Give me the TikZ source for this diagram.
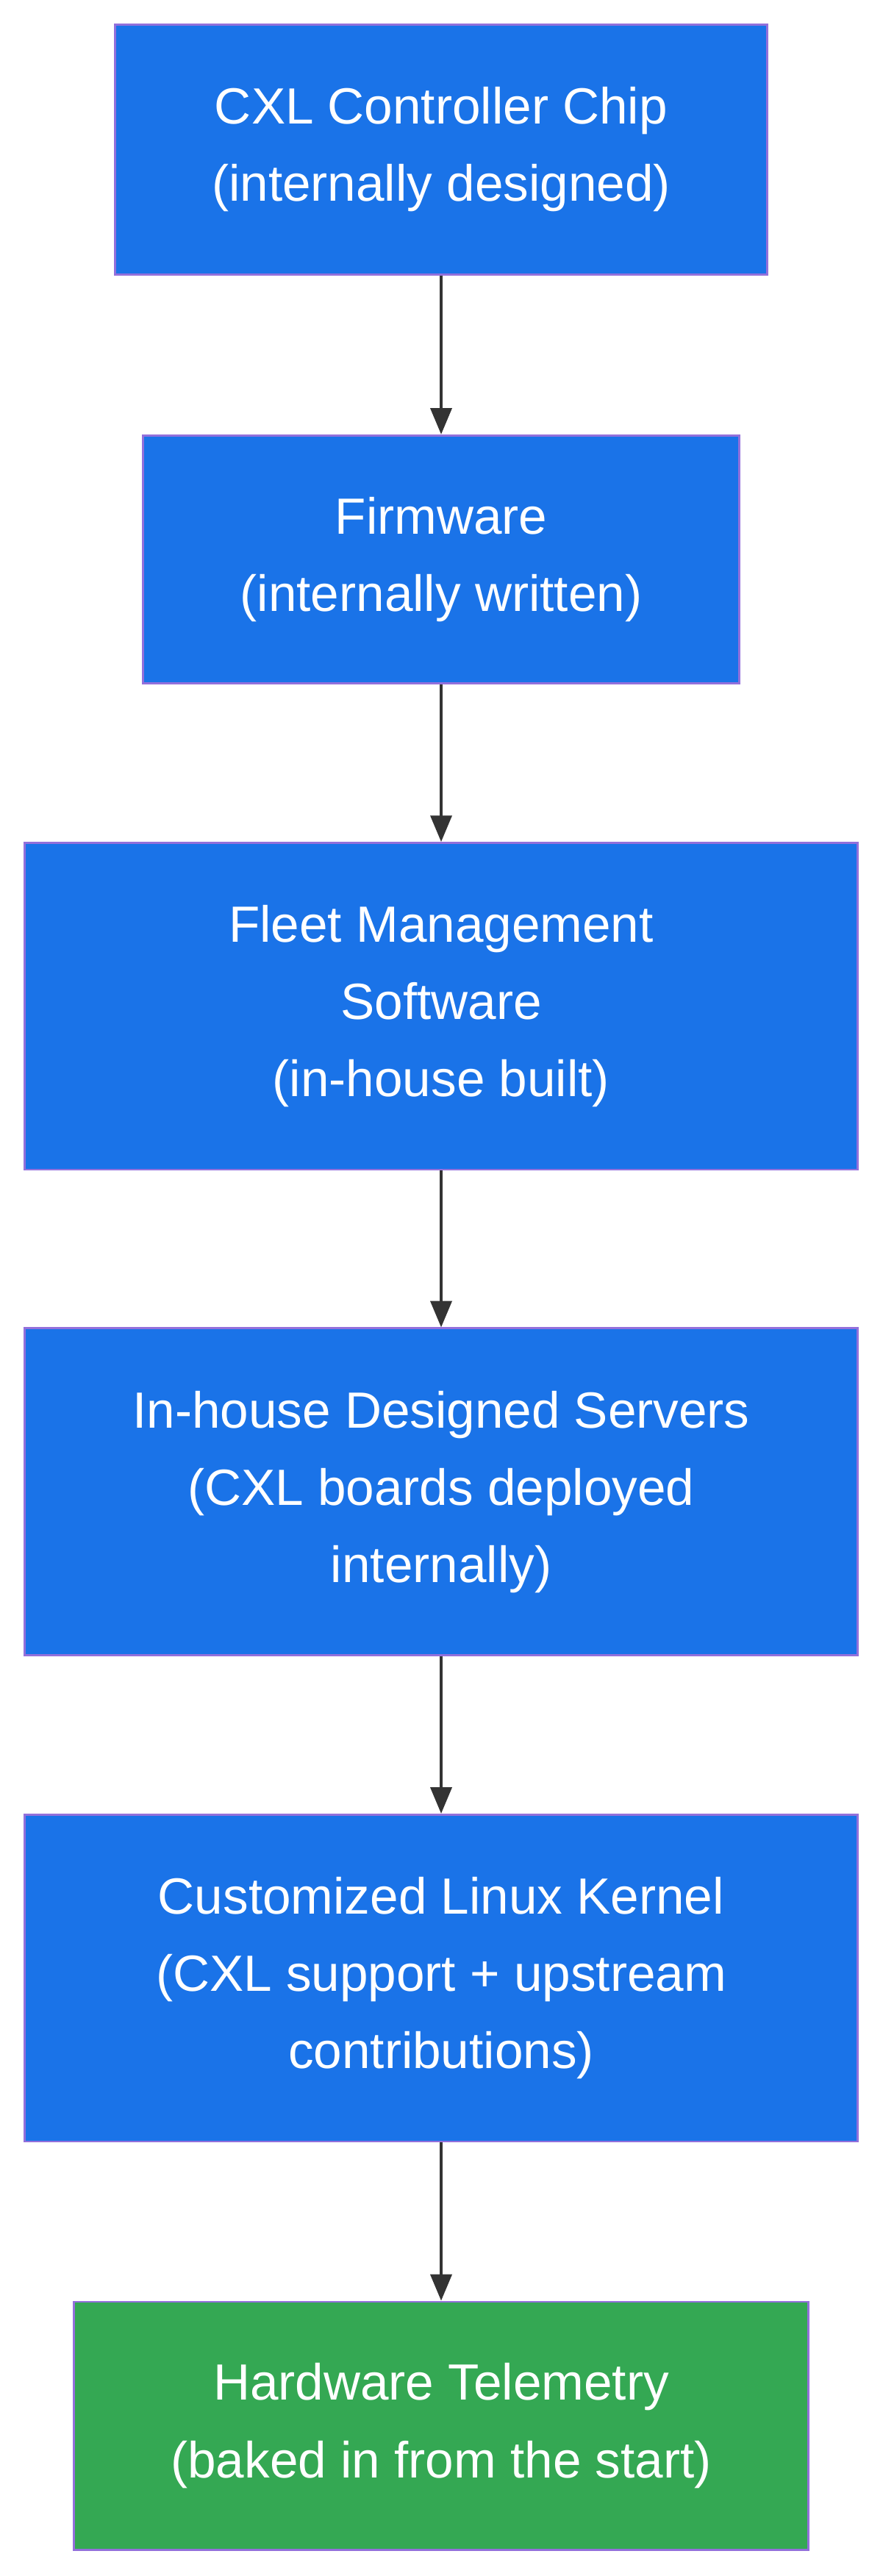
\documentclass[tikz,border=0pt]{standalone}
\usepackage{fontspec}
\setmainfont{Liberation Sans}
\usetikzlibrary{arrows.meta}
\definecolor{boxblue}{HTML}{1A73E8}
\definecolor{boxgreen}{HTML}{34A853}
\definecolor{boxedge}{HTML}{9370DB}
\definecolor{linkgray}{HTML}{333333}
\begin{document}
\begin{tikzpicture}[x=1pt,y=-1pt,
  box/.style={draw=boxedge,line width=1.2pt,fill=boxblue,text=white,align=center,
    font=\fontsize{31}{47}\selectfont,inner sep=0pt},
  link/.style={linkgray,line width=1.6pt,-{Triangle[length=16pt,width=13pt]}}]
  \useasboundingbox (0,0) rectangle (537,1568);
  %boxes
  \node[box,minimum width=397pt,minimum height=152pt] (chip) at (268.5,91) {CXL Controller Chip\\(internally designed)};
  \node[box,minimum width=363pt,minimum height=151pt] (fw) at (268.5,340.5) {Firmware\\(internally written)};
  \node[box,minimum width=507pt,minimum height=199pt] (fleet) at (268.5,612.5) {Fleet Management\\Software\\(in-house built)};
  \node[box,minimum width=507pt,minimum height=199pt] (servers) at (268.5,908) {In-house Designed Servers\\(CXL boards deployed\\internally)};
  \node[box,minimum width=507pt,minimum height=199pt] (kernel) at (268.5,1204) {Customized Linux Kernel\\(CXL support + upstream\\contributions)};
  \node[box,fill=boxgreen,minimum width=447pt,minimum height=151pt] (telemetry) at (268.5,1476.5) {Hardware Telemetry\\(baked in from the start)};
  %links
  \draw[link] (chip) -- (fw);
  \draw[link] (fw) -- (fleet);
  \draw[link] (fleet) -- (servers);
  \draw[link] (servers) -- (kernel);
  \draw[link] (kernel) -- (telemetry);
\end{tikzpicture}
\end{document}
